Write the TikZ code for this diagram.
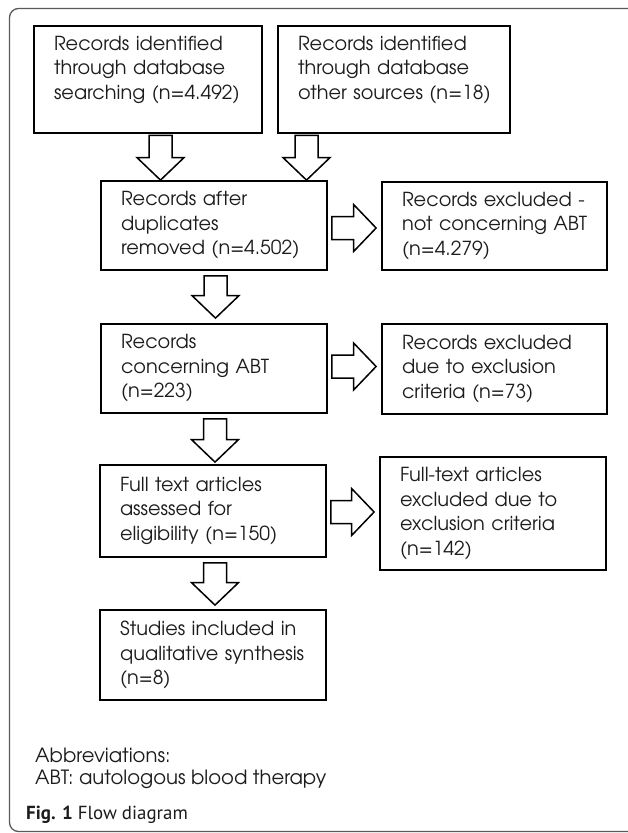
\documentclass[tikz,border=0pt]{standalone}
\usepackage{fontspec}
\setmainfont{texgyreadventor}[Extension=.otf, UprightFont=*-regular, BoldFont=*-bold]
\newfontfamily\capfont{PT Sans}
\usetikzlibrary{calc}
\definecolor{txt}{HTML}{1C1C1C}
\definecolor{framec}{HTML}{5A5A5A}
\tikzset{
  box/.style={draw=black, line width=1.8pt, fill=white, align=left, inner xsep=20pt, inner ysep=0pt,
    font=\fontsize{19.3}{24.5}\selectfont, text=txt,
    execute at begin node={\hyphenpenalty=10000 \exhyphenpenalty=10000 \hbadness=10000 \hfuzz=20pt\relax}},
  blk/.style={draw=black, fill=white, line width=1.5pt, line join=miter},
  plain/.style={anchor=base west, inner sep=0pt, text=txt, font=\fontsize{19.6}{22}\selectfont},
  framestyle/.style={draw=framec, line width=1.3pt, rounded corners=9pt}
}
\newcommand\blkarrow[2]{%
  \draw[blk] let \p1=(#1), \p2=(#2), \n1={atan2(\y2-\y1,\x2-\x1)}, \n2={veclen(\x2-\x1,\y2-\y1)} in
    [shift={(\p1)}, rotate=\n1]
    (0pt,-11.5pt) -- ({(\n2-22.5)*1pt},-11.5pt) -- ({(\n2-22.5)*1pt},-23.5pt) -- ({\n2*1pt},0pt)
    -- ({(\n2-22.5)*1pt},23.5pt) -- ({(\n2-22.5)*1pt},11.5pt) -- (0pt,11.5pt) -- cycle;}
\begin{document}
\begin{tikzpicture}[x=1pt, y=-1pt]
\useasboundingbox (0,0) rectangle (627,833);
\fill[white] (0,0) rectangle (627,833);
\draw[framestyle] (634,8.5) -- (9.5,8.5) -- (9.5,831.5) -- (634,831.5);

\node[box, text width=188pt, minimum height=107pt] (b1) at (148,79.5)
  {\mbox{Records identified}\\\mbox{through database}\\\mbox{searching (n=4.492)}\\[-8pt]\strut};
\node[box, text width=192pt, minimum height=107pt] (b2) at (394,79.5)
  {\mbox{Records identified}\\\mbox{through database}\\\mbox{other sources (n=18)}\\[-8pt]\strut};
\node[box, text width=186pt, minimum height=89pt] (b3) at (214,225.5)
  {\mbox{Records after}\\\mbox{duplicates}\\\mbox{removed (n=4.502)}};
\node[box, text width=185pt, minimum height=88pt] (b4) at (494.5,226)
  {\mbox{Records excluded -}\\\mbox{not concerning ABT}\\\mbox{(n=4.279)}};
\node[box, text width=186pt, minimum height=89pt] (b5) at (214,368.5)
  {\mbox{Records}\\\mbox{concerning ABT}\\\mbox{(n=223)}};
\node[box, text width=185pt, minimum height=90pt] (b6) at (494.5,369)
  {\mbox{Records excluded}\\\mbox{due to exclusion}\\\mbox{criteria (n=73)}};
\node[box, text width=186pt, minimum height=92pt] (b7) at (213,511)
  {\mbox{Full text articles}\\\mbox{assessed for}\\\mbox{eligibility (n=150)}};
\node[box, text width=186pt, minimum height=113pt] (b8) at (493,513.5)
  {\mbox{Full-text articles}\\\mbox{excluded due to}\\\mbox{exclusion criteria}\\\mbox{(n=142)}};
\node[box, text width=186pt, minimum height=90pt] (b9) at (213,655)
  {\mbox{Studies included in}\\\mbox{qualitative synthesis}\\\mbox{(n=8)}};

\coordinate (a1) at ($(b1.south)+(12.5,1.5)$);
\coordinate (a2) at ($(b2.south)+(-87.5,1.5)$);
\blkarrow{a1}{a1 |- b3.north}
\blkarrow{a2}{a2 |- b3.north}
\blkarrow{$(b3.south)+(1.5,5)$}{$(b5.north)+(1.5,-5)$}
\blkarrow{$(b5.south)+(1,5)$}{$(b7.north)+(2,-2)$}
\blkarrow{$(b7.south)+(2,5)$}{$(b9.north)+(2,-4)$}
\blkarrow{$(b3.east)+(4,2.5)$}{$(b4.west)+(-5,2)$}
\blkarrow{$(b5.east)+(4,-2)$}{$(b6.west)+(-5,-2.5)$}
\blkarrow{$(b7.east)+(4,1)$}{$(b8.west)+(-5,-1.5)$}

\node[plain] (abbr) at (35,762) {Abbreviations:};
\node[plain] (abt) at (35,784) {ABT: autologous blood therapy};
\node[anchor=base west, inner sep=0pt, text=txt, font=\capfont\fontsize{18.9}{20}\selectfont] (cap) at (26,819)
  {\textbf{Fig. 1} Flow diagram};
\end{tikzpicture}
\end{document}
